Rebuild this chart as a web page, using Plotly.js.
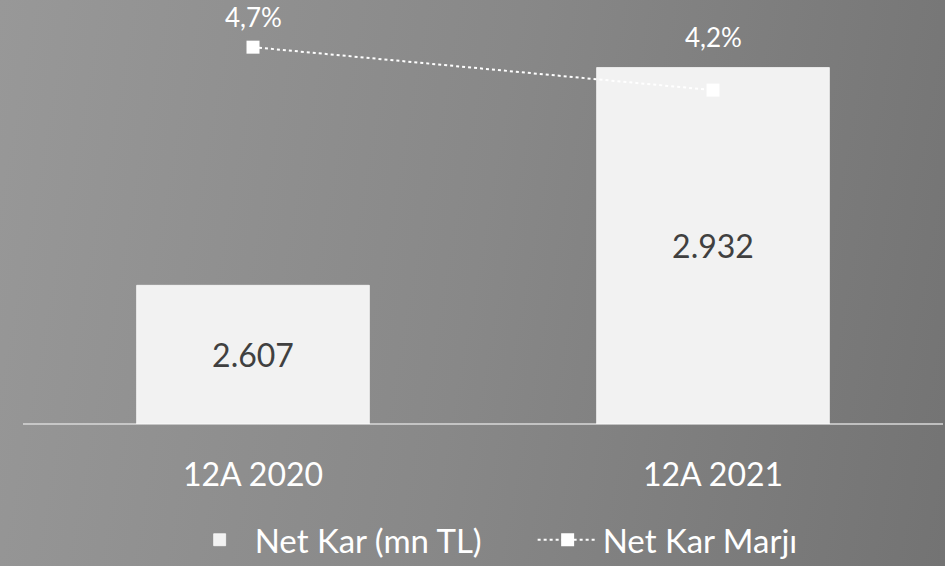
<!DOCTYPE html>
<html>
<head>
<meta charset="utf-8">
<script src="https://cdn.plot.ly/plotly-3.0.1.min.js"></script>
<style>
  html, body { margin: 0; padding: 0; }
  body {
    width: 945px; height: 566px; overflow: hidden;
    background: linear-gradient(100deg, #989898 0%, #888888 50%, #737373 100%);
  }
  #chart1 { width: 945px; height: 566px; }
</style>
</head>
<body>
<div id="chart1"></div>
<script>
// values
var periods = ["12A 2020", "12A 2021"]
var net_kar = [2607, 2932]            // mn TL
var net_kar_labels = ["2.607", "2.932"]
var marj = [4.7, 4.2]                 // %
var marj_labels = ["4,7%", "4,2%"]

var axis_min = 2400                   // bar axis does not start at zero in the original
var font_fam = "Lato, 'Open Sans', sans-serif"

window.onload = function(){

    var bars = {
        type: 'bar',
        name: 'Net Kar (mn TL)',
        x: periods,
        base: axis_min,
        y: net_kar.map(v => v - axis_min),
        text: net_kar_labels,
        textposition: 'inside',
        insidetextanchor: 'middle',
        textangle: 0,
        textfont: {size: 32, color: '#404040', family: font_fam},
        marker: {color: '#f2f2f2', line: {color: 'rgba(255,255,255,0.7)', width: 1}},
        hoverinfo: 'skip'
    }

    var line = {
        type: 'scatter',
        name: 'Net Kar Marjı',
        x: periods,
        y: marj,
        yaxis: 'y2',
        mode: 'lines+markers',
        cliponaxis: false,
        line: {color: '#ffffff', width: 2, dash: 'dot'},
        marker: {symbol: 'square', size: 13, color: '#ffffff'},
        hoverinfo: 'skip'
    }

    // percentage labels sit at different heights above the markers in the original
    var label_lift = [30, 53]
    var annos = marj.map((v, i) => ({
        x: periods[i], y: v, xref: 'x', yref: 'y2',
        text: marj_labels[i],
        showarrow: false,
        yanchor: 'middle',
        yshift: label_lift[i],
        font: {size: 26, color: '#ffffff', family: font_fam}
    }))

    Plotly.newPlot("chart1", [bars, line], {
        width: 945,
        height: 566,
        paper_bgcolor: 'rgba(0,0,0,0)',
        plot_bgcolor: 'rgba(0,0,0,0)',
        font: {family: font_fam, color: '#ffffff'},
        margin: {l: 23, r: 2, t: 21.5, b: 142, autoexpand: false},
        bargap: 0.494,
        showlegend: true,
        legend: {
            orientation: 'h',
            x: 0.1757, xanchor: 'left',
            y: -0.288, yanchor: 'middle',
            font: {size: 33, color: '#ffffff', family: font_fam},
            itemwidth: 60,
            entrywidth: 273,
            tracegroupgap: 0,
            traceorder: 'normal'
        },
        xaxis: {
            showgrid: false,
            zeroline: false,
            showline: false,
            ticks: '',
            ticklabelstandoff: 29,
            tickfont: {size: 32, color: '#ffffff', family: font_fam}
        },
        yaxis: {
            range: [axis_min, 3000],
            visible: false,
            showgrid: false,
            zeroline: false
        },
        yaxis2: {
            range: [0.313, 4.993],
            overlaying: 'y',
            side: 'right',
            visible: false,
            showgrid: false,
            zeroline: false
        },
        annotations: annos,
        shapes: [{
            type: 'line', xref: 'paper', yref: 'paper',
            x0: 0, x1: 1, y0: 0, y1: 0,
            line: {color: '#d9d9d9', width: 1.5},
            layer: 'below'
        }]
    }, {staticPlot: true})
}
</script>
</body>
</html>
